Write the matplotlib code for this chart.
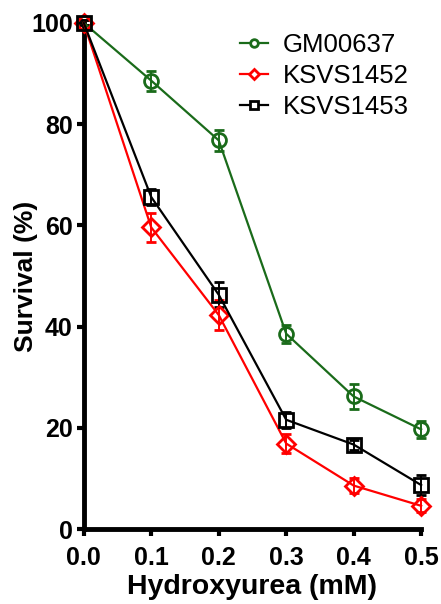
import matplotlib
matplotlib.use("Agg")
import matplotlib.pyplot as plt
from matplotlib.lines import Line2D

dose = [0.0, 0.1, 0.2, 0.3, 0.4, 0.5]
gm00637 = [100, 88.6, 76.8, 38.6, 26.2, 19.7]
gm00637_err = [0.5, 2.0, 2.0, 1.8, 2.5, 1.7]
ksvs1452 = [100, 59.6, 42.3, 16.9, 8.6, 4.6]
ksvs1452_err = [0.5, 2.9, 2.9, 1.8, 1.4, 1.3]
ksvs1453 = [100, 65.6, 46.3, 21.6, 16.7, 8.7]
ksvs1453_err = [0.5, 1.5, 2.5, 1.6, 1.0, 1.9]

series = [
    ("GM00637", gm00637, gm00637_err, "#1a6b1a", "o"),
    ("KSVS1452", ksvs1452, ksvs1452_err, "#ff0000", "D"),
    ("KSVS1453", ksvs1453, ksvs1453_err, "#000000", "s"),
]

plt.rcParams['font.family'] = ['Liberation Sans', 'DejaVu Sans']
fig = plt.figure(figsize=(4.41, 6.04), dpi=100)
ax = fig.add_axes([0.19, 0.124, 0.765, 0.838])

handles = []
for name, vals, err, col, mk in series:
    ms = 10 if mk != "D" else 9.5
    ax.errorbar(dose, vals, yerr=err, color=col, marker=mk, markersize=ms,
                markerfacecolor="none", markeredgecolor=col, markeredgewidth=2.0,
                linewidth=1.6, capsize=3.5, elinewidth=1.4, capthick=1.4,
                clip_on=False, zorder=3)
    handles.append(Line2D([], [], color=col, marker=mk, markersize=5.5,
                          markerfacecolor="white", markeredgecolor=col,
                          markeredgewidth=2.0, linewidth=1.6, label=name))

ax.set_xlim(0, 0.5)
ax.set_ylim(0, 100)
ax.set_xticks(dose)
ax.set_xticklabels([f"{d:.1f}" for d in dose])
ax.set_yticks([0, 20, 40, 60, 80, 100])
for s in ["top", "right"]:
    ax.spines[s].set_visible(False)
for s in ["left", "bottom"]:
    ax.spines[s].set_linewidth(3.5)
ax.tick_params(axis="both", direction="out", length=5, width=3, labelsize=18)
ax.tick_params(axis="x", pad=7)
ax.tick_params(axis="y", pad=3)
for lab in ax.get_xticklabels() + ax.get_yticklabels():
    lab.set_fontweight("bold")
ax.set_xlabel("Hydroxyurea (mM)", fontsize=20.5, fontweight="bold", labelpad=3)
ax.set_ylabel("Survival (%)", fontsize=19, fontweight="bold", labelpad=-5)

leg = ax.legend(handles=handles, loc="upper left", bbox_to_anchor=(0.463, 0.98),
                frameon=False, fontsize=18.5, handlelength=1.1,
                handletextpad=0.55, labelspacing=0.28, borderpad=0,
                borderaxespad=0)

fig.savefig("out.png", dpi=100)
